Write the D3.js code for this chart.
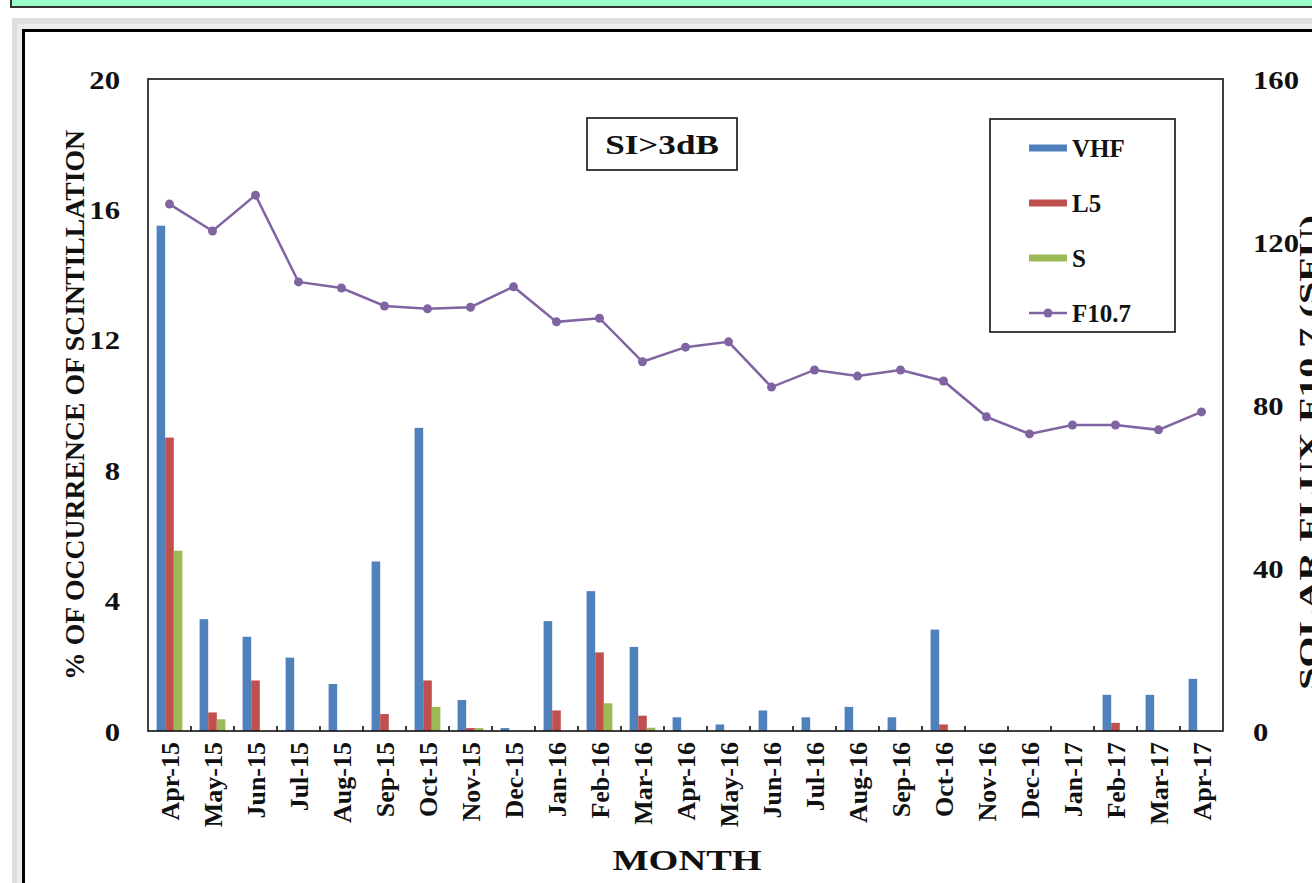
<!DOCTYPE html>
<html>
<head>
<meta charset="utf-8">
<script src="https://cdn.jsdelivr.net/npm/d3@7"></script>
<style>
  html, body { margin: 0; padding: 0; background: #fff; overflow: hidden; }
  svg { display: block; }
  text { font-family: "Liberation Serif", "Times New Roman", serif; font-weight: bold; fill: #111; }
</style>
</head>
<body>
<svg id="chart" width="1312" height="883"></svg>
<script>
// Monthly occurrence of scintillation (SI > 3 dB) with solar flux
const months = ["Apr-15","May-15","Jun-15","Jul-15","Aug-15","Sep-15","Oct-15","Nov-15","Dec-15",
  "Jan-16","Feb-16","Mar-16","Apr-16","May-16","Jun-16","Jul-16","Aug-16","Sep-16","Oct-16",
  "Nov-16","Dec-16","Jan-17","Feb-17","Mar-17","Apr-17"];
const vhf = [15.5, 3.43, 2.89, 2.25, 1.44, 5.2, 9.3, 0.95, 0.09, 3.37, 4.29, 2.58, 0.42, 0.2, 0.63,
  0.42, 0.74, 0.42, 3.11, 0, 0, 0, 1.11, 1.11, 1.6];
const l5 = [9.0, 0.57, 1.55, 0, 0, 0.52, 1.55, 0.09, 0, 0.63, 2.41, 0.47, 0, 0, 0,
  0, 0, 0, 0.2, 0, 0, 0, 0.25, 0, 0];
const sBand = [5.53, 0.36, 0, 0, 0, 0, 0.74, 0.09, 0, 0, 0.85, 0.1, 0, 0, 0,
  0, 0, 0, 0, 0, 0, 0, 0, 0, 0];
const f107 = [129.3, 122.7, 131.5, 110.2, 108.7, 104.3, 103.6, 104.0, 109.0, 100.4, 101.3, 90.6, 94.2,
  95.5, 84.4, 88.6, 87.1, 88.6, 85.9, 77.1, 72.9, 75.1, 75.1, 73.9, 78.3];
const leftTicks = [0, 4, 8, 12, 16, 20];
const rightTicks = [0, 40, 80, 120, 160];

const seriesNames = ["VHF", "L5", "S"];
const seriesValues = [vhf, l5, sBand];
const colors = { VHF: "#4F81BD", L5: "#C0504D", S: "#9BBB59", F107: "#8064A2" };

const svg = d3.select("#chart");

// page chrome around the figure
svg.append("rect").attr("x", 11).attr("y", -3).attr("width", 1320).attr("height", 10)
  .attr("fill", "#9CFDCC").attr("stroke", "#333").attr("stroke-width", 2);
svg.append("rect").attr("x", 12).attr("y", 18).attr("width", 1320).attr("height", 900)
  .attr("fill", "#dedede");
svg.append("rect").attr("x", 17).attr("y", 24).attr("width", 1320).attr("height", 900)
  .attr("fill", "#ececec");
svg.append("rect").attr("x", 23.5).attr("y", 30.5).attr("width", 1320).attr("height", 900)
  .attr("fill", "#fff").attr("stroke", "#000").attr("stroke-width", 3);

const plot = { left: 148, right: 1223, top: 79, bottom: 731 };
const wide = 1.18; // horizontal stretch of the figure's upright lettering

const x0 = d3.scaleBand().domain(months).range([plot.left, plot.right]).paddingInner(0).paddingOuter(0);
const bw = x0.bandwidth();
const x1 = d3.scaleBand().domain(seriesNames).range([bw * 0.2, bw * 0.8]).padding(0);
const yL = d3.scaleLinear().domain([0, 20]).range([plot.bottom, plot.top]);
const yR = d3.scaleLinear().domain([0, 160]).range([plot.bottom, plot.top]);

// bars
const rows = months.map((m, i) => ({ m, vals: seriesNames.map((s, k) => ({ s, v: seriesValues[k][i] })) }));
const g = svg.append("g");
g.selectAll("g.month").data(rows).join("g").attr("class", "month")
  .attr("transform", d => `translate(${x0(d.m)},0)`)
  .selectAll("rect").data(d => d.vals.filter(e => e.v > 0)).join("rect")
  .attr("x", d => x1(d.s))
  .attr("width", x1.bandwidth())
  .attr("y", d => yL(d.v))
  .attr("height", d => yL(0) - yL(d.v))
  .attr("fill", d => colors[d.s]);

// F10.7 line with markers
const pts = months.map((m, i) => ({ m, v: f107[i] }));
const line = d3.line().x(d => x0(d.m) + bw / 2).y(d => yR(d.v));
svg.append("path").datum(pts).attr("d", line).attr("fill", "none")
  .attr("stroke", colors.F107).attr("stroke-width", 2.5);
svg.selectAll("circle.pt").data(pts).join("circle").attr("class", "pt")
  .attr("cx", d => x0(d.m) + bw / 2).attr("cy", d => yR(d.v)).attr("r", 4.5)
  .attr("fill", colors.F107);

// plot frame
svg.append("rect").attr("x", plot.left).attr("y", plot.top)
  .attr("width", plot.right - plot.left).attr("height", plot.bottom - plot.top)
  .attr("fill", "none").attr("stroke", "#111").attr("stroke-width", 1.6);

// category boundary ticks pointing up from the x axis
svg.append("g").selectAll("line").data(months.slice(1)).join("line")
  .attr("x1", d => x0(d)).attr("x2", d => x0(d))
  .attr("y1", plot.bottom).attr("y2", plot.bottom - 5)
  .attr("stroke", "#111").attr("stroke-width", 1.6);

// axes
const padL = 28, padR = 30;
const axL = svg.append("g").attr("transform", `translate(${plot.left},0)`)
  .call(d3.axisLeft(yL).tickValues(leftTicks).tickSize(0).tickPadding(padL));
axL.select(".domain").remove();
axL.selectAll("text").style("font-size", "26px").style("font-family", null)
  .attr("dy", "0.35em").attr("x", -padL / wide).attr("transform", `scale(${wide},1)`);

const axR = svg.append("g").attr("transform", `translate(${plot.right},0)`)
  .call(d3.axisRight(yR).tickValues(rightTicks).tickSize(0).tickPadding(padR));
axR.select(".domain").remove();
axR.selectAll("text").style("font-size", "26px").style("font-family", null)
  .attr("dy", "0.35em").attr("x", padR / wide).attr("transform", `scale(${wide},1)`);

const axB = svg.append("g").attr("transform", `translate(0,${plot.bottom})`)
  .call(d3.axisBottom(x0).tickSize(0).tickPadding(0));
axB.select(".domain").remove();
axB.selectAll("text").style("font-size", "26px").style("font-family", null)
  .attr("text-anchor", "end").attr("transform", "rotate(-90)")
  .attr("x", -11).attr("y", 0).attr("dy", "0.35em");

// axis titles
svg.append("text").attr("transform", "translate(84,405) rotate(-90)")
  .attr("text-anchor", "middle").style("font-size", "27px")
  .attr("textLength", 550).attr("lengthAdjust", "spacingAndGlyphs")
  .text("% OF OCCURRENCE OF SCINTILLATION");
svg.append("text").attr("transform", "translate(1317,690) rotate(-90)")
  .attr("text-anchor", "start").style("font-size", "26px")
  .attr("textLength", 475).attr("lengthAdjust", "spacingAndGlyphs")
  .text("SOLAR FLUX F10.7 (SFU)");
svg.append("text").attr("transform", `translate(687,870) scale(1.28,1)`).attr("text-anchor", "middle")
  .style("font-size", "30px").text("MONTH");

// condition box
svg.append("rect").attr("x", 587).attr("y", 118).attr("width", 150).attr("height", 52)
  .attr("fill", "#fff").attr("stroke", "#111").attr("stroke-width", 1.6);
svg.append("text").attr("transform", `translate(662,145) scale(1.3,1)`).attr("dy", "0.35em")
  .attr("text-anchor", "middle").style("font-size", "27px").text("SI>3dB");

// legend
const legendItems = [
  { name: "VHF", key: "VHF", type: "bar" },
  { name: "L5", key: "L5", type: "bar" },
  { name: "S", key: "S", type: "bar" },
  { name: "F10.7", key: "F107", type: "line" }
];
svg.append("rect").attr("x", 990).attr("y", 119).attr("width", 185).attr("height", 213)
  .attr("fill", "#fff").attr("stroke", "#111").attr("stroke-width", 1.6);
const lg = svg.append("g").selectAll("g").data(legendItems).join("g")
  .attr("transform", (d, i) => `translate(1029,${148 + i * 55})`);
lg.filter(d => d.type === "bar").append("rect")
  .attr("x", 0).attr("y", -3.5).attr("width", 38).attr("height", 7)
  .attr("fill", d => colors[d.key]);
lg.filter(d => d.type === "line").append("line")
  .attr("x1", 0).attr("x2", 38).attr("y1", 0).attr("y2", 0)
  .attr("stroke", d => colors[d.key]).attr("stroke-width", 2.5);
lg.filter(d => d.type === "line").append("circle")
  .attr("cx", 19).attr("cy", 0).attr("r", 4.5).attr("fill", d => colors[d.key]);
lg.append("text").attr("x", 43).attr("dy", "0.35em").style("font-size", "25px").text(d => d.name);
</script>
</body>
</html>
